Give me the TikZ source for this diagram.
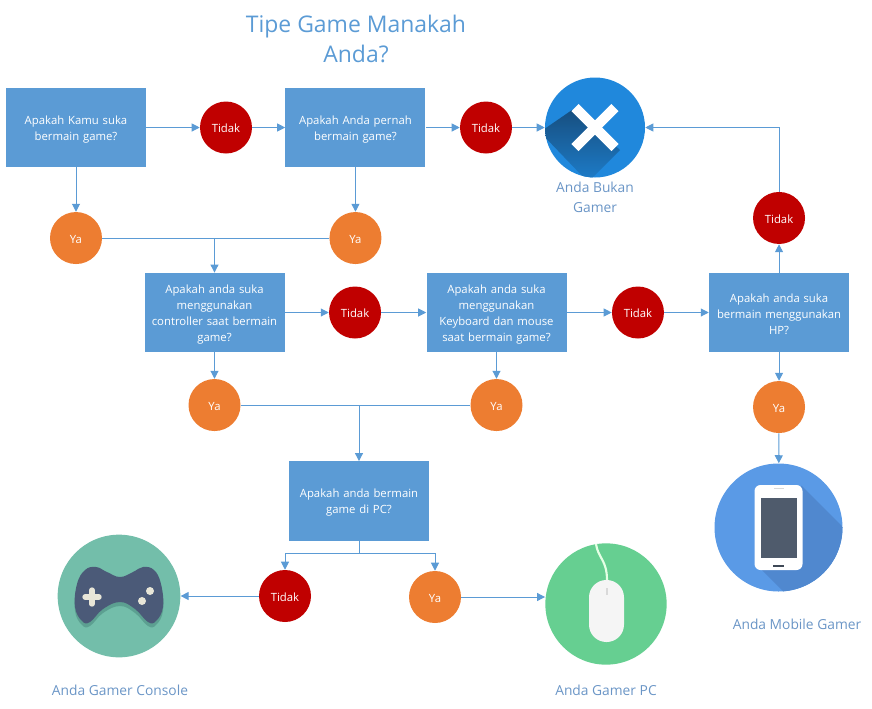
\documentclass[tikz,border=0pt]{standalone}
\usepackage{fontspec}
\setmainfont{Open Sans}
\usetikzlibrary{arrows.meta,positioning,shapes.geometric}
\definecolor{flowblue}{HTML}{5B9BD5}
\definecolor{noRed}{HTML}{C00000}
\definecolor{yesOrange}{HTML}{ED7D31}
\definecolor{capBlue}{HTML}{6A95C6}
\definecolor{xblue}{HTML}{2088DC}
\definecolor{xshadow}{HTML}{174F80}
\definecolor{padgreen}{HTML}{73BEAA}
\definecolor{paddark}{HTML}{5CA091}
\definecolor{padslate}{HTML}{4B5A78}
\definecolor{padkey}{HTML}{E8E6D8}
\definecolor{mousegreen}{HTML}{66CF91}
\definecolor{phoneblue}{HTML}{5A9AE6}
\definecolor{phoneshadow}{HTML}{5088CF}
\definecolor{phonescreen}{HTML}{4F5B6C}
\tikzset{
  qbox/.style={draw=none,fill=flowblue,rectangle,minimum width=105pt,minimum height=59.5pt,
    text=white,align=center,text width=100pt,inner sep=0pt,font=\fontsize{8.5}{12}\selectfont,
    execute at end node={\par\vspace*{-3pt}}},
  tidak/.style={circle,fill=noRed,minimum size=39pt,inner sep=0pt,text=white,text height=8pt,font=\fontsize{8.5}{10}\selectfont},
  ya/.style={circle,fill=yesOrange,minimum size=39pt,inner sep=0pt,text=white,text height=8pt,font=\fontsize{8.5}{10}\selectfont},
  flow/.style={draw=flowblue,line width=.75pt},
  caption/.style={text=capBlue,align=center,inner sep=0pt,font=\fontsize{10.35}{15}\selectfont}
}
\begin{document}
\begin{tikzpicture}[>={Triangle[length=6pt,width=6pt]},x=.75pt,y=-.75pt]
\useasboundingbox (0,0) rectangle (872,708);
\node[text=flowblue,align=center,inner sep=0pt,font=\fontsize{17.2}{22}\selectfont] at (356,39) (title)
      {Tipe Game Manakah\\Anda?};
% icons first, the connectors stop at their rims
\node[circle,fill=xblue,minimum size=75pt,inner sep=0pt] at (595,127.5) (nogamer) {};
\begin{scope}
  \clip (595,127.5) circle[radius=37.5pt];
  \shade[shading angle=-45,top color=xshadow,bottom color=xblue!92!black]
    (572,110) -- (540,132) -- (588,182) -- (620,150) -- (595,128) -- cycle;
\end{scope}
\draw[white,line width=7.5pt] (575,107.5) -- (615,147.5);
\draw[white,line width=7.5pt] (615,107.5) -- (575,147.5);

\node[circle,fill=padgreen,minimum size=92pt,inner sep=0pt] at (119,596) (console) {};
\begin{scope}[shift={(119,596)}]
  \fill[paddark] plot[smooth cycle,tension=.7] coordinates
    {(-42,-8) (-34,-22) (-23,-25) (-12,-20) (1,-15) (14,-20) (24,-25) (35,-22) (42,-8) (44,15) (37,29) (29,30) (16,17) (1,10) (-16,17) (-29,30) (-37,29) (-44,15)};
  \fill[padslate] plot[smooth cycle,tension=.7] coordinates
    {(-42,-12) (-34,-26) (-23,-29) (-12,-24) (1,-19) (14,-24) (24,-29) (35,-26) (42,-12) (44,11) (37,25) (29,26) (16,13) (1,6) (-16,13) (-29,26) (-37,25) (-44,11)};
  \draw[padkey,line width=4pt,line cap=round] (-34,1) -- (-20,1);
  \draw[padkey,line width=4pt,line cap=round] (-27,-6) -- (-27,8);
  \fill[padkey] (31,-5) circle[radius=3pt];
  \fill[padkey] (23,5) circle[radius=3pt];
\end{scope}

\node[circle,fill=mousegreen,minimum size=91pt,inner sep=0pt] at (606,604) (mouse) {};
\begin{scope}[shift={(606,604)}]
  \draw[white!90!green,line width=1.6pt] (-10,-60) .. controls (-8,-46) and (1,-44) .. (1,-24);
  \fill[black!4,rounded corners=13pt] (-17,-24) rectangle (18,38);
  \fill[black!15] (0,-16) rectangle (2,-9);
\end{scope}

\node[circle,fill=phoneblue,minimum size=96pt,inner sep=0pt] at (778.5,527.5) (mobile) {};
\begin{scope}[shift={(778.5,527.5)}]
  \clip (0,0) circle[radius=48pt];
  \fill[phoneshadow] (23,-42) -- (90,25) -- (50,109) -- (-17,42) -- cycle;
  \fill[white,rounded corners=4.5pt] (-24,-42.5) rectangle (24,42.5);
  \fill[phonescreen] (-18,-30) rectangle (18,30.5);
  \fill[phonescreen!80!black] (-5.5,37) rectangle (5.5,39.5);
  \fill[black!15] (-5,-39.5) rectangle (5,-38.5);
\end{scope}

\node[caption] at (595,197) (nogamercap) {Anda Bukan\\Gamer};
\node[caption] at (120,690) (consolecap) {Anda Gamer Console};
\node[caption] at (606,690) (pccap) {Anda Gamer PC};
\node[caption] at (797,624) (mobilecap) {Anda Mobile Gamer};

% first row
\node[qbox] at (76,127.5) (q1) {Apakah Kamu suka\\bermain game?};
\node[tidak,right of=q1,node distance=112.5pt] (tidak1) {Tidak} edge[flow,<-] (q1);
\node[qbox,right of=tidak1,node distance=97.1pt] (q2) {Apakah Anda pernah\\bermain game?} edge[flow,<-] (tidak1);
\node[tidak,right of=q2,node distance=97.9pt] (tidak2) {Tidak} edge[flow,<-] (q2);
\draw[flow,->] (tidak2) -- (nogamer);
\node[ya,below of=q1,node distance=82.9pt] (ya1) {Ya} edge[flow,<-] (q1);
\node[ya,below of=q2,node distance=82.9pt] (ya2) {Ya} edge[flow,<-] (q2);
\draw[flow] (ya1) -- (ya2);
\coordinate (join1) at (214.5,238);
% second row
\node[qbox] at (214.5,312.5) (q3) {Apakah anda suka\\menggunakan\\controller saat bermain\\game?} edge[flow,<-] (join1);
\node[tidak,right of=q3,node distance=105.4pt] (tidak3) {Tidak} edge[flow,<-] (q3);
\node[qbox,right of=tidak3,node distance=106.1pt] (q4) {Apakah anda suka\\menggunakan\\Keyboard dan mouse\\saat bermain game?} edge[flow,<-] (tidak3);
\node[tidak,right of=q4,node distance=106.1pt] (tidak4) {Tidak} edge[flow,<-] (q4);
\node[qbox,right of=tidak4,node distance=105.8pt] (q5) {Apakah anda suka\\bermain menggunakan\\HP?} edge[flow,<-] (tidak4);
\node[tidak,above of=q5,node distance=70.9pt] (tidak5) {Tidak} edge[flow,<-] (q5);
\draw[flow,->] (tidak5) |- (nogamer);
\node[ya,below of=q3,node distance=69.4pt] (ya3) {Ya} edge[flow,<-] (q3);
\node[ya,below of=q4,node distance=69.4pt] (ya4) {Ya} edge[flow,<-] (q4);
\node[ya,below of=q5,node distance=70.9pt] (ya5) {Ya} edge[flow,<-] (q5);
\draw[flow,->] (ya5) -- (mobile);
\draw[flow] (ya3) -- (ya4);
\coordinate (join2) at (359,404.5);
% last box
\node[qbox] at (359,501) (q6) {Apakah anda bermain\\game di PC?} edge[flow,<-] (join2);
\coordinate (fork) at (359,553);
\node[tidak] at (285,596) (tidak6) {Tidak};
\node[ya] at (435,597) (ya6) {Ya};
\draw[flow] (q6) -- (fork);
\draw[flow,->] (fork) -| (tidak6);
\draw[flow,->] (fork) -| (ya6);
\draw[flow,->] (tidak6) -- (console);
\draw[flow,->] (ya6) -- (ya6 -| mouse.west);
\end{tikzpicture}
\end{document}
